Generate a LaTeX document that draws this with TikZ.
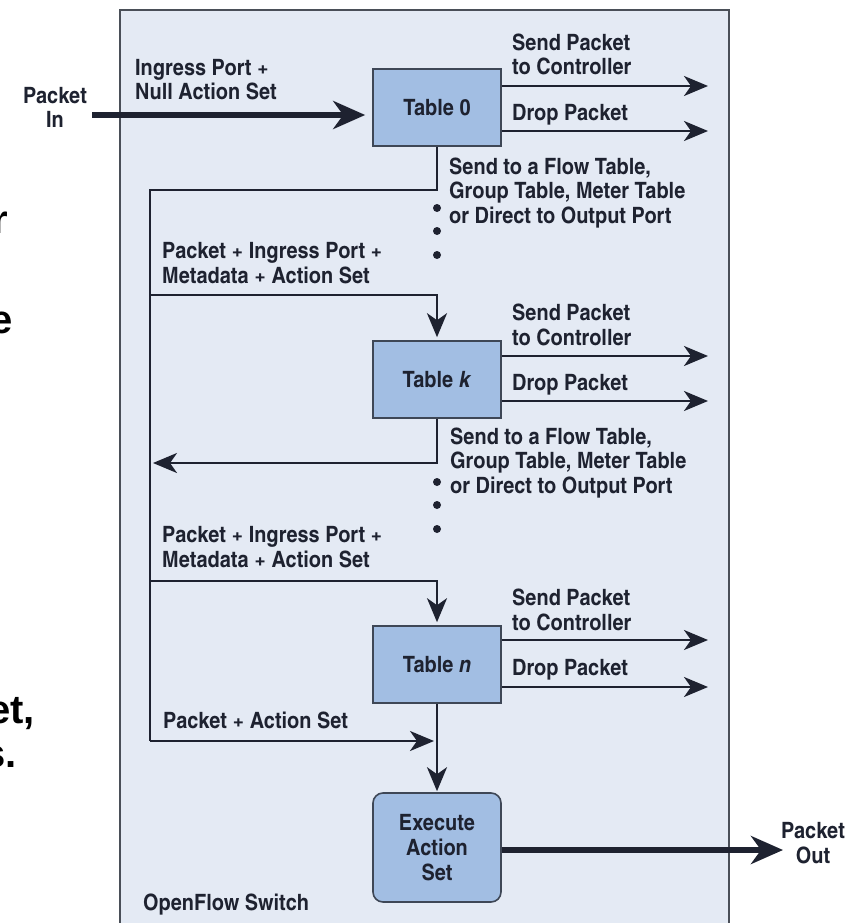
\documentclass[tikz,border=0pt]{standalone}
\usepackage{fontspec}
\setmainfont{TeX Gyre Heros Cn}[FakeStretch=1.08]
\newfontfamily\fragfont{Liberation Sans}
\usetikzlibrary{arrows.meta}
\definecolor{framefill}{HTML}{E4EAF4}
\definecolor{frameline}{HTML}{4A4F58}
\definecolor{boxfill}{HTML}{A2BEE3}
\definecolor{boxline}{HTML}{3E4756}
\definecolor{ink}{HTML}{1E2230}
\begin{document}
\begin{tikzpicture}[x=1pt,y=-1pt,
  lbl/.style={font=\fontsize{22.5}{24.5}\selectfont\bfseries, text=ink, inner sep=0pt, align=left, anchor=base west},
  clbl/.style={lbl, align=center, anchor=base},
  tbl/.style={draw=boxline, fill=boxfill, line width=1.6pt, minimum width=128pt, minimum height=77pt, inner sep=0pt,
     font=\fontsize{22.5}{25}\selectfont\bfseries, text=ink, align=center},
  conn/.style={draw=ink, line width=2.6pt},
  arr/.style={conn, -{Stealth[length=24pt,width=20pt,inset=7pt]}},
  bigarr/.style={draw=ink, line width=5.5pt, -{Stealth[length=32pt,width=28pt,inset=10pt]}},
  frag/.style={font=\fragfont\fontsize{40}{44}\selectfont\bfseries, text=black, inner sep=0pt, anchor=base east}
]
\clip (0,0) rectangle (850,923);

% switch frame
\fill[framefill] (120,10) rectangle (729,923);
\draw[frameline, line width=2pt] (120,923) -- (120,10) -- (729,10) -- (729,923);

% cut-off fragments at the left edge
\node[frag] (fr1) at (8,233) {r};
\node[frag] (fr2) at (13,333) {e};
\node[frag] (fr3) at (35,723) {et,};
\node[frag] (fr4) at (17,767) {s.};

% tables
\node[tbl] (t0) at (437,107.5) {Table 0};
\node[tbl] (tk) at (437,379.5) {Table \textit{k}};
\node[tbl] (tn) at (437,664.5) {Table \textit{n}};
\node[tbl, rounded corners=10pt, minimum height=109pt] (ex) at (437,847.5) {Execute\\Action\\Set};

% coordinates
\coordinate (pinS) at (92,115);
\coordinate (pout) at (783,850);
\coordinate (c0s) at (708,86);
\coordinate (c0d) at (708,131);
\coordinate (cks) at (708,356);
\coordinate (ckd) at (708,401);
\coordinate (cns) at (708,640);
\coordinate (cnd) at (708,687);
\coordinate (j0) at (150,190);
\coordinate (j1) at (150,295);
\coordinate (jk) at (153,463);
\coordinate (j2) at (150,581);
\coordinate (jend) at (150,741);

% connectors
\draw[bigarr, shorten >=7pt] (pinS) -- (pinS -| t0.west);
\draw[arr] (c0s -| t0.east) -- (c0s);
\draw[arr] (c0d -| t0.east) -- (c0d);
\draw[arr] (cks -| tk.east) -- (cks);
\draw[arr] (ckd -| tk.east) -- (ckd);
\draw[arr] (cns -| tn.east) -- (cns);
\draw[arr] (cnd -| tn.east) -- (cnd);
\draw[conn] (t0.south) |- (j0) -- (jend);
\draw[arr, shorten >=3pt] (j1) -| (tk.north);
\draw[arr] (tk.south) |- (jk);
\draw[arr, shorten >=3pt] (j2) -| (tn.north);
\draw[arr, shorten >=3pt] (jend) -- (jend -| tn.south);
\draw[arr, shorten >=1pt] (tn.south) -- (ex.north);
\draw[bigarr] (ex.east |- pout) -- (pout);

% dots
\foreach \yy in {208,231,255,482,505,529} \fill[ink] (437,\yy) circle (4pt);

% labels (anchor = baseline of the last line)
\node[clbl] (lin) at (55,128) {Packet\\In};
\node[clbl] (lout) at (813,863) {Packet\\Out};
\node[lbl] (l0in) at (135,100) {Ingress Port +\\Null Action Set};
\node[lbl] (l0s) at (512,75) {Send Packet\\to Controller};
\node[lbl] (l0d) at (512,121) {Drop Packet};
\node[lbl] (l0f) at (449,223) {Send to a Flow Table,\\Group Table, Meter Table\\or Direct to Output Port};
\node[lbl] (lp1) at (162,283) {Packet + Ingress Port +\\Metadata + Action Set};
\node[lbl] (lks) at (512,345) {Send Packet\\to Controller};
\node[lbl] (lkd) at (512,390) {Drop Packet};
\node[lbl] (lkf) at (450,493) {Send to a Flow Table,\\Group Table, Meter Table\\or Direct to Output Port};
\node[lbl] (lp2) at (162,567) {Packet + Ingress Port +\\Metadata + Action Set};
\node[lbl] (lns) at (512,630) {Send Packet\\to Controller};
\node[lbl] (lnd) at (512,675) {Drop Packet};
\node[lbl] (lpa) at (163,728) {Packet + Action Set};
\node[lbl] (lof) at (143,910) {OpenFlow Switch};
\end{tikzpicture}
\end{document}
